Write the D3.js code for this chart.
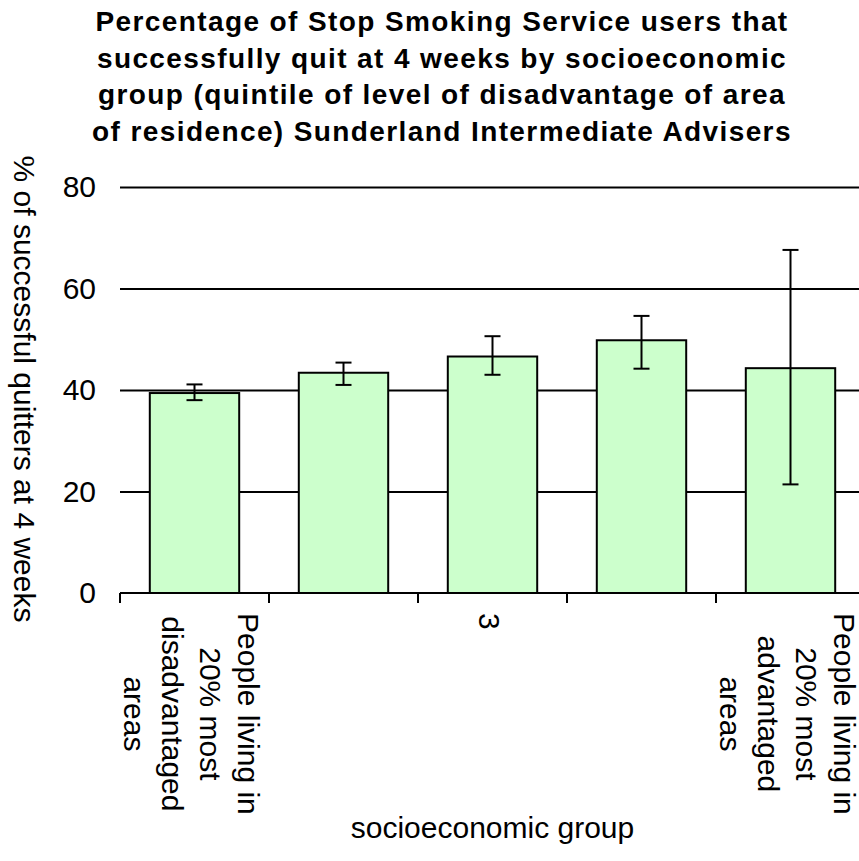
<!DOCTYPE html>
<html><head><meta charset="utf-8">
<script src="https://cdn.jsdelivr.net/npm/d3@7"></script>
<style>
body{margin:0;background:#fff}
svg{display:block}
text{font-family:"Liberation Sans",Arial,sans-serif;fill:#000}
</style>
</head><body>
<svg id="chart" width="859" height="861"></svg>
<script>
const categories = ["q1","q2","q3","q4","q5"];
const categoryLabels = [
  ["People living in","20% most","disadvantaged","areas"],
  [],
  ["3"],
  [],
  ["People living in","20% most","advantaged","areas"]
];
const values  = [39.4, 43.4, 46.6, 49.8, 44.3];
const errLow  = [38.0, 41.0, 43.0, 44.2, 21.4];
const errHigh = [41.1, 45.4, 50.6, 54.6, 67.6];
const yTicks = [0, 20, 40, 60, 80];
const titleLines = [
  "Percentage of Stop Smoking Service users that",
  "successfully quit at 4 weeks by socioeconomic",
  "group (quintile of level of disadvantage of area",
  "of residence) Sunderland Intermediate Advisers"
];
const yTitle = "% of successful quitters at 4 weeks";
const xTitle = "socioeconomic group";

(function(){
const svg = d3.select("#chart");
svg.append("rect").attr("width",859).attr("height",861).attr("fill","#fff");

const pLeft = 120, pRight = 865, pTop = 187, pBottom = 593;
const x = d3.scaleBand().domain(categories).range([pLeft, pRight]).paddingInner(0.4).paddingOuter(0.2);
const y = d3.scaleLinear().domain([0, 80]).range([pBottom, pTop]);

// title
svg.append("g").selectAll("text").data(titleLines).join("text")
  .attr("x", 442).attr("y", (d,i) => 31 + i*36.5)
  .attr("text-anchor","middle").attr("font-size",28).attr("font-weight","bold")
  .attr("letter-spacing","1.4px")
  .text(d => d);

// gridlines
const grid = svg.append("g").attr("transform",`translate(${pLeft},0)`)
  .call(d3.axisLeft(y).tickValues(yTicks.filter(v => v > 0)).tickSize(-(pRight-pLeft)).tickFormat(""));
grid.select(".domain").remove();
grid.selectAll("line").attr("stroke","#000").attr("stroke-width",1.8);

// y tick labels
const yAx = svg.append("g").attr("transform",`translate(${pLeft},0)`)
  .call(d3.axisLeft(y).tickValues(yTicks).tickSize(0).tickPadding(24));
yAx.select(".domain").remove();
yAx.selectAll("text").attr("font-size",30).attr("font-family","Liberation Sans, Arial, sans-serif").attr("fill","#000");

// bars
svg.append("g").selectAll("rect").data(categories).join("rect")
  .attr("x", d => x(d)).attr("width", x.bandwidth())
  .attr("y", (d,i) => y(values[i])).attr("height", (d,i) => y(0) - y(values[i]))
  .attr("fill","#ccffcc").attr("stroke","#000").attr("stroke-width",2);

// error bars
const eb = svg.append("g").attr("stroke","#000").attr("stroke-width",2);
categories.forEach((c,i) => {
  const cx = x(c) + x.bandwidth()/2;
  eb.append("line").attr("x1",cx).attr("x2",cx).attr("y1",y(errLow[i])).attr("y2",y(errHigh[i]));
  eb.append("line").attr("x1",cx-8).attr("x2",cx+8).attr("y1",y(errLow[i])).attr("y2",y(errLow[i]));
  eb.append("line").attr("x1",cx-8).attr("x2",cx+8).attr("y1",y(errHigh[i])).attr("y2",y(errHigh[i]));
});

// x axis line and ticks at category boundaries
const xa = svg.append("g").attr("stroke","#000").attr("stroke-width",2);
xa.append("line").attr("x1",pLeft).attr("x2",pRight).attr("y1",y(0)).attr("y2",y(0));
const gap = (x.step() - x.bandwidth())/2;
const bounds = categories.map(c => x(c) - gap).concat([x(categories[categories.length-1]) + x.bandwidth() + gap]);
bounds.forEach(b => xa.append("line").attr("x1",b).attr("x2",b).attr("y1",y(0)).attr("y2",y(0)+10));

// category labels (rotated 90deg, multi-line, centered)
const lineH = 38, capH = 22;
categories.forEach((c,i) => {
  const lines = categoryLabels[i];
  if (!lines.length) return;
  const n = lines.length;
  const cx = x(c) + x.bandwidth()/2;
  const firstBase = cx + ((n-1)*lineH - capH)/2 - 3;
  const g = svg.append("g").attr("transform",`translate(${firstBase},613) rotate(90)`);
  const ts = g.selectAll("text").data(lines).join("text")
    .attr("y",(d,j) => j*lineH).attr("font-size",30).text(d => d);
  let w = 0; ts.each(function(){ w = Math.max(w, this.getComputedTextLength()); });
  ts.attr("x", w/2).attr("text-anchor","middle");
});

// axis titles
svg.append("text").attr("transform","translate(14,389) rotate(90)")
  .attr("text-anchor","middle").attr("font-size",30).text(yTitle);
svg.append("text").attr("x",(pLeft+pRight)/2).attr("y",838)
  .attr("text-anchor","middle").attr("font-size",30).text(xTitle);
})();
</script>
</body></html>
